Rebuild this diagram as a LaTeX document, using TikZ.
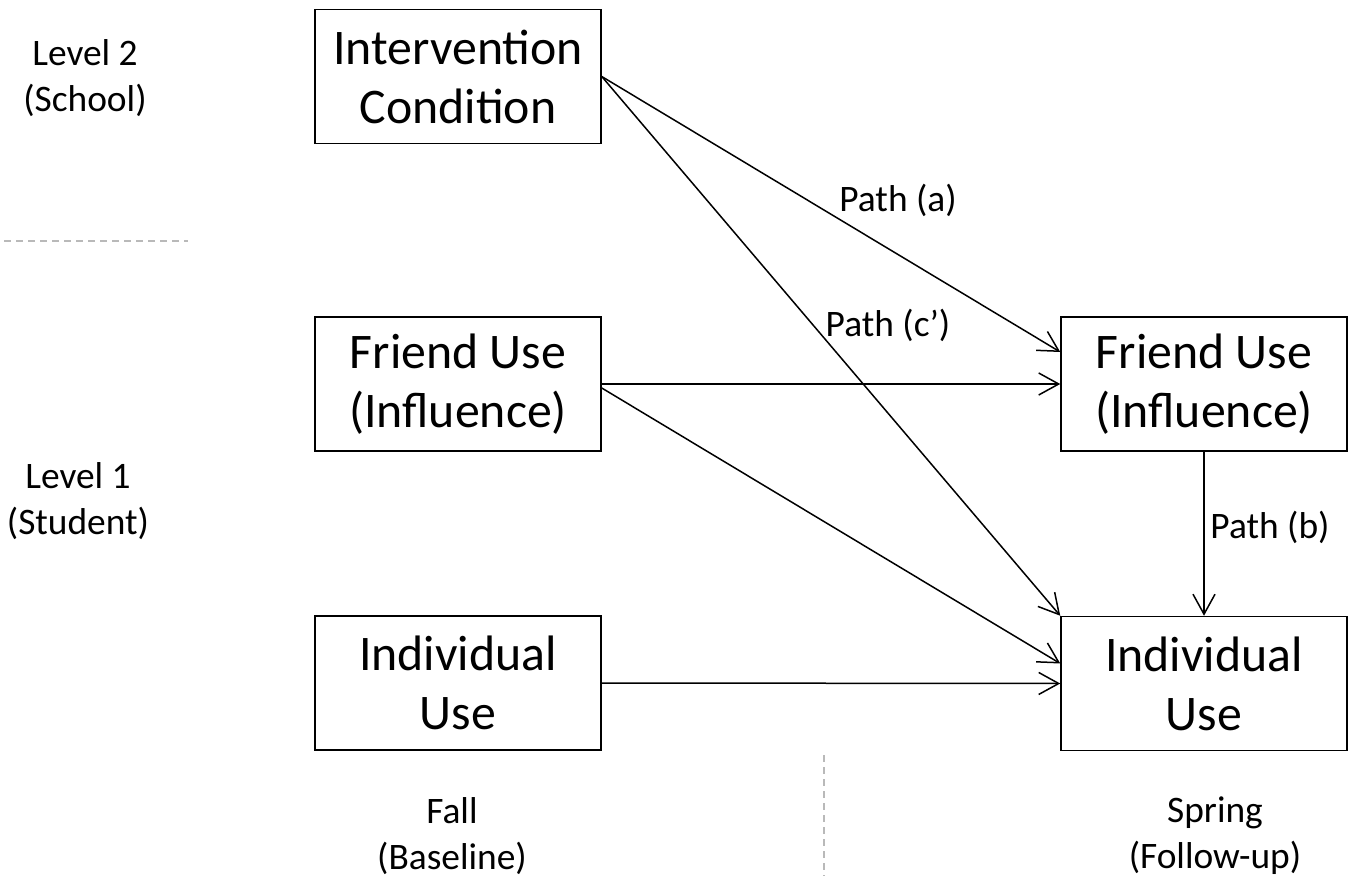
\documentclass[tikz,border=0pt]{standalone}
\usepackage{fontspec}
\setmainfont{Carlito}
\usetikzlibrary{arrows.meta,calc}
\begin{document}
\begin{tikzpicture}[x=1pt,y=-1pt,
  box/.style={draw=black,line width=1.5pt,minimum width=286pt,minimum height=134pt,inner sep=0pt,align=center,font=\fontsize{49.8}{59}\selectfont},
  lbl/.style={align=center,font=\fontsize{37.4}{46}\selectfont,inner sep=0pt},
  conn/.style={line width=1.5pt,-{Straight Barb[length=20pt,width=22pt,line width=1.5pt]}},
  sep/.style={draw=gray!55,dashed,line width=1.5pt,dash pattern=on 7pt off 5pt}]
\useasboundingbox (0,0) rectangle (1355,888);
\node[box] (int) at (458,76.5) {Intervention\\Condition};
\node[box] (fl) at (458,384) {Friend Use\\(Influence)};
\node[box] (il) at (458,683) {Individual\\Use};
\node[box] (fr) at (1204,384) {Friend Use\\(Influence)};
\node[box] (ir) at (1204,683.5) {Individual\\Use};
\draw[conn] (int.east) -- ($(fr.west)+(0,-32)$);
\draw[conn] (int.east) -- (ir.north west);
\draw[conn] (fl.east) -- (fr.west);
\draw[conn] ($(fl.east)+(0,4)$) -- ($(ir.west)+(0,-20)$);
\draw[conn] (il.east) -- (ir.west);
\draw[conn] (fr.south) -- (ir.north);
\node[lbl] (pa) at (898,200) {Path (a)};
\node[lbl] (pc) at (888,325) {Path (c’)};
\node[lbl] (pb) at (1270,527) {Path (b)};
\node[lbl] (l2) at (85,78) {Level 2\\(School)};
\node[lbl] (l1) at (78,501) {Level 1\\(Student)};
\node[lbl] (fall) at (452,836) {Fall\\(Baseline)};
\node[lbl] (spring) at (1215,836) {Spring\\(Follow-up)};
\coordinate (h1) at (4,241);
\coordinate (h2) at (188,241);
\coordinate (v1) at (824,755);
\coordinate (v2) at (824,876);
\draw[sep] (h1) -- (h2);
\draw[sep] (v1) -- (v2);
\end{tikzpicture}
\end{document}
